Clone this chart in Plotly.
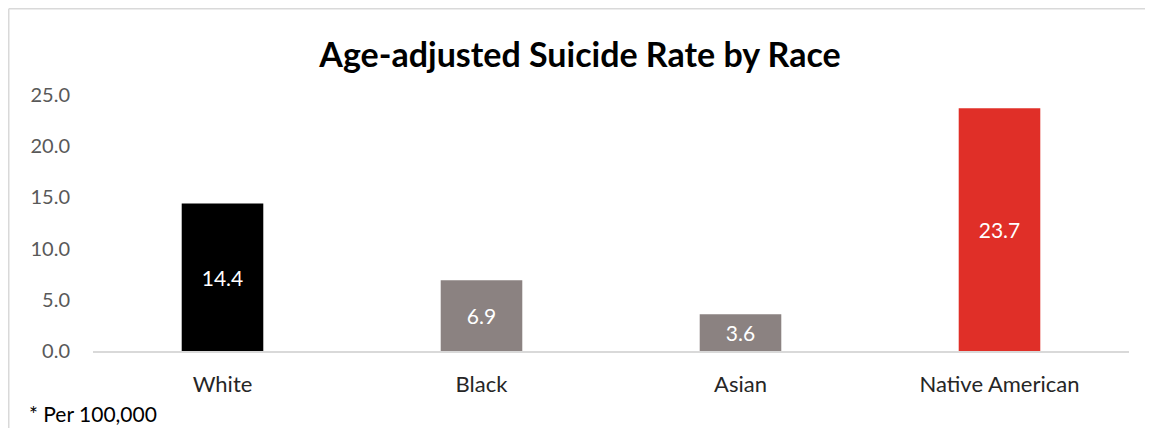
import plotly.graph_objects as go

categories = ["White", "Black", "Asian", "Native American"]
values = [14.4, 6.9, 3.6, 23.7]
bar_colors = ["#000000", "#8B8281", "#8B8281", "#E02F28"]
y_ticks = [0, 5, 10, 15, 20, 25]
y_tick_labels = ["0.0", "5.0", "10.0", "15.0", "20.0", "25.0"]

FONT = "Lato, 'Open Sans', sans-serif"

# the page body has an 8px margin, so the figure is drawn 8px smaller
OFF = 8
W, H = 1153 - OFF, 428 - OFF
L, R = 93 - OFF, 1153 - 1129
T, B = 95 - OFF, 428 - 351
pw, ph = W - L - R, H - T - B


def px(x_page):
    return (x_page - OFF - L) / pw


def py(y_page):
    return (H - B - (y_page - OFF)) / ph


fig = go.Figure()
fig.add_trace(go.Bar(
    x=categories, y=values,
    marker=dict(color=bar_colors, line=dict(width=0)),
    text=[f"{v:.1f}" for v in values],
    textposition="inside", insidetextanchor="middle",
    textfont=dict(color="white", size=21, family=FONT),
    constraintext="none", cliponaxis=False,
))

fig.update_layout(
    width=W, height=H,
    margin=dict(l=L, r=R, t=T, b=B),
    paper_bgcolor="white", plot_bgcolor="white",
    showlegend=False,
    bargap=0.685,
    uniformtext=dict(minsize=21, mode="show"),
    font=dict(family=FONT),
    title=dict(text="<b>Age-adjusted Suicide Rate by Race</b>",
               x=(580 - OFF) / W, xref="container", xanchor="center",
               y=1 - (55 - OFF) / H, yref="container", yanchor="middle",
               font=dict(size=34, color="#000000", family=FONT)),
    xaxis=dict(showgrid=False, showline=True, linecolor="#D9D9D9", linewidth=1.5,
               ticks="", tickfont=dict(size=22, color="#262626", family=FONT),
               ticklabelstandoff=13, zeroline=False),
    yaxis=dict(range=[0, 25], tickvals=y_ticks, ticktext=y_tick_labels,
               showgrid=False, zeroline=False, showline=False, ticks="",
               tickfont=dict(size=20, color="#595959", family=FONT),
               ticklabelstandoff=22),
    shapes=[
        dict(type="line", xref="paper", yref="paper",
             x0=px(OFF + 0.75), x1=px(1160), y0=py(OFF + 0.75), y1=py(OFF + 0.75),
             line=dict(color="#D9D9D9", width=1.5)),
        dict(type="line", xref="paper", yref="paper",
             x0=px(OFF + 0.75), x1=px(OFF + 0.75), y0=py(OFF + 0.75), y1=py(440),
             line=dict(color="#D9D9D9", width=1.5)),
    ],
    annotations=[
        dict(text="* Per 100,000", xref="paper", yref="paper",
             x=px(27), y=py(413), xanchor="left", yanchor="middle",
             showarrow=False, font=dict(size=21, color="#000000", family=FONT)),
    ],
)

fig.write_html("out.html")
